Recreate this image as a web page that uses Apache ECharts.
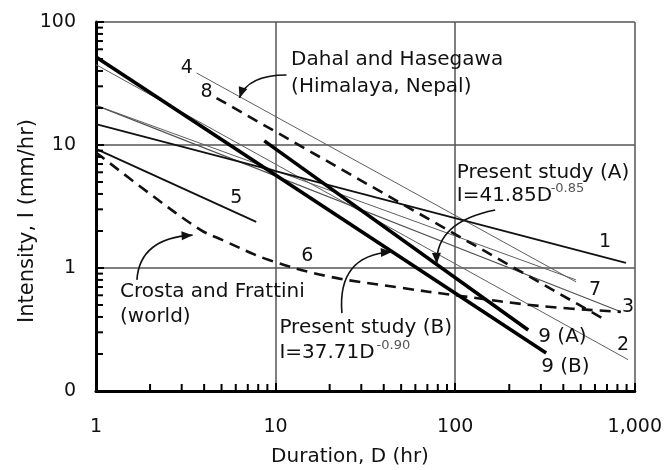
<!DOCTYPE html>
<html>
<head>
<meta charset="utf-8">
<script src="https://cdn.jsdelivr.net/npm/echarts@6/dist/echarts.min.js"></script>
<style>html,body{margin:0;padding:0;background:#fff}#c{width:665px;height:470px}</style>
</head>
<body>
<div id="c"></div>
<script>
// ---- data ----
const xTickLabels = {1:'1', 10:'10', 100:'100', 1000:'1,000'};
const yTickLabels = {0.1:'0', 1:'1', 10:'10', 100:'100'};
const xMinorTicks = [2,3,4,5,6,7,8,9,20,30,40,50,60,70,80,90,200,300,400,500,600,700,800,900];
const yMinorTicks = [0.2,0.3,0.4,0.5,0.6,0.7,0.8,0.9,2,3,4,5,6,7,8,9,20,30,40,50,60,70,80,90];

const line1 = [[1,14.8],[892,1.1]];
const line2 = [[1,45],[916,0.18]];
const line3 = [[1,21],[837,0.44]];
const line4 = [[3.63,38.5],[471,0.77]];
const line5 = [[1,9.3],[7.8,2.37]];
const line6 = [[1,8.7],[2,4.0],[3.8,2.05],[5,1.7],[9.2,1.16],[20,0.85],[50,0.69],[100,0.6],[300,0.49],[836,0.44]];
const line7 = [[1,21],[471,0.8]];
const line8 = [[4.69,24.1],[682,0.38]];
const line9A = [[8.65,10.8],[255,0.313]];
const line9B = [[1,52],[321,0.204]];

// ---- annotation anchors (data coordinates) ----
const notes = [
  {t:'4', at:[3.2,42.3], a:'center'},
  {t:'8', at:[4.13,27.0], a:'center'},
  {t:'5', at:[6.05,3.71], a:'center'},
  {t:'6', at:[15.0,1.25], a:'center'},
  {t:'1', at:[683,1.63], a:'center'},
  {t:'7', at:[601,0.66], a:'center'},
  {t:'3', at:[916,0.48], a:'center'},
  {t:'2', at:[859,0.237], a:'center'},
  {t:'9 (A)', at:[290,0.275], a:'left'},
  {t:'9 (B)', at:[301,0.157], a:'left'},
  {t:'Dahal and Hasegawa', at:[12.2,49.1], a:'left'},
  {t:'(Himalaya, Nepal)', at:[12.2,29.7], a:'left'},
  {t:'Present study (A)', at:[102,5.92], a:'left'},
  {t:'I=41.85D', at:[102,3.85], a:'left'},
  {t:'Crosta and Frattini', at:[1.36,0.638], a:'left'},
  {t:'(world)', at:[1.36,0.40], a:'left'},
  {t:'Present study (B)', at:[10.5,0.325], a:'left'},
  {t:'I=37.71D', at:[10.5,0.204], a:'left'}
];
const sups = [
  {t:'-0.85', at:[340,4.45]},
  {t:'-0.90', at:[36.5,0.236]}
];
const arrows = [
  {from:[11.5,37.1], ctrl:[6.97,37.1], to:[6.29,24.1]},
  {from:[1.69,0.80], ctrl:[1.75,1.75], to:[3.45,1.85]},
  {from:[167,2.96], ctrl:[77.8,2.37], to:[78.9,1.08]},
  {from:[23.4,0.43], ctrl:[22,1.28], to:[44.4,1.35]}
];

const chart = echarts.init(document.getElementById('c'), null, {renderer:'canvas'});
const FONT = 'DejaVu Sans';

function lineSeries(data, color, width, dashed, z, smooth) {
  return {
    type:'line', data:data, showSymbol:false, symbol:'none', smooth: smooth || false,
    z: z, animation:false, silent:true,
    lineStyle:{color:color, width:width, type: dashed ? [11,7] : 'solid', cap:'butt'}
  };
}
function tickSeries(vals, isX) {
  return {
    type:'custom', z:20, animation:false, silent:true, clip:false,
    data: vals.map(v => isX ? [v, 0.1] : [1, v]),
    renderItem: function(params, api) {
      const p = api.coord([api.value(0), api.value(1)]);
      const s = isX ? {x1:p[0], y1:p[1], x2:p[0], y2:p[1]-7} : {x1:p[0], y1:p[1], x2:p[0]+7, y2:p[1]};
      return {type:'line', shape:s, style:{stroke:'#000', lineWidth:2}};
    }
  };
}

chart.setOption({
  animation:false,
  backgroundColor:'#fff',
  grid:{left:96, right:28, top:22, bottom:79, containLabel:false},
  xAxis:{
    type:'log', logBase:10, min:1, max:1000, splitNumber:3,
    axisLine:{show:true, onZero:false, lineStyle:{color:'#000', width:3}},
    axisTick:{show:true, inside:true, length:8, lineStyle:{color:'#000', width:2}},
    axisLabel:{margin:27, fontFamily:FONT, fontSize:19, color:'#111',
      formatter: v => xTickLabels[Math.round(v)] || ''},
    splitLine:{show:true, lineStyle:{color:'#555', width:1.5}}
  },
  yAxis:{
    type:'log', logBase:10, min:0.1, max:100, splitNumber:3,
    axisLine:{show:true, onZero:false, lineStyle:{color:'#000', width:3}},
    axisTick:{show:true, inside:true, length:8, lineStyle:{color:'#000', width:2}},
    axisLabel:{margin:20, fontFamily:FONT, fontSize:19, color:'#111',
      formatter: v => v < 0.5 ? yTickLabels[0.1] : (yTickLabels[Math.round(v)] || '')},
    splitLine:{show:true, lineStyle:{color:'#555', width:1.5}}
  },
  series:[
    lineSeries(line2, '#5f5f5f', 1, false, 3),
    lineSeries(line3, '#505050', 1.1, false, 3),
    lineSeries(line4, '#5f5f5f', 1, false, 3),
    lineSeries(line7, '#5f5f5f', 1, false, 3),
    lineSeries(line1, '#111', 1.8, false, 4),
    lineSeries(line5, '#111', 1.8, false, 4),
    lineSeries(line6, '#111', 2.6, true, 5, 0.35),
    lineSeries(line8, '#111', 2.6, true, 5),
    lineSeries(line9A, '#000', 3.6, false, 6),
    lineSeries(line9B, '#000', 3.6, false, 6),
    tickSeries(xMinorTicks, true),
    tickSeries(yMinorTicks, false)
  ]
});

function px(pt) { return chart.convertToPixel({gridIndex:0}, pt); }
const g = [];
notes.forEach(n => {
  const p = px(n.at);
  g.push({type:'text', x:p[0], y:p[1], z:50, silent:true,
    style:{text:n.t, fill:'#111', font:(n.t.length < 3 ? '19px ' : '20px ') + '"' + FONT + '"',
      textAlign:n.a, textVerticalAlign:'middle'}});
});
sups.forEach(n => {
  const p = px(n.at);
  g.push({type:'text', x:p[0], y:p[1], z:50, silent:true,
    style:{text:n.t, fill:'#555', font:'13px "' + FONT + '"', textAlign:'left', textVerticalAlign:'middle'}});
});
arrows.forEach(a => {
  const s = px(a.from), c = px(a.ctrl), e = px(a.to);
  g.push({type:'bezierCurve', z:50, silent:true,
    shape:{x1:s[0], y1:s[1], cpx1:c[0], cpy1:c[1], x2:e[0], y2:e[1]},
    style:{stroke:'#111', lineWidth:1.6, fill:null}});
  const ang = Math.atan2(e[1]-c[1], e[0]-c[0]);
  const L = 11, W = 4.5;
  const bx = e[0] - L*Math.cos(ang), by = e[1] - L*Math.sin(ang);
  g.push({type:'polygon', z:51, silent:true,
    shape:{points:[[e[0],e[1]],[bx - W*Math.sin(ang), by + W*Math.cos(ang)],[bx + W*Math.sin(ang), by - W*Math.cos(ang)]]},
    style:{fill:'#111', stroke:null}});
});
// axis titles
g.push({type:'text', x:350, y:457, z:50, silent:true,
  style:{text:'Duration, D (hr)', fill:'#111', font:'20px "' + FONT + '"', textAlign:'center', textVerticalAlign:'middle'}});
g.push({type:'text', x:28, y:221, rotation:Math.PI/2, z:50, silent:true,
  style:{text:'Intensity, I (mm/hr)', fill:'#111', font:'21px "' + FONT + '"', textAlign:'center', textVerticalAlign:'middle'}});
chart.setOption({graphic:g});
</script>
</body>
</html>
